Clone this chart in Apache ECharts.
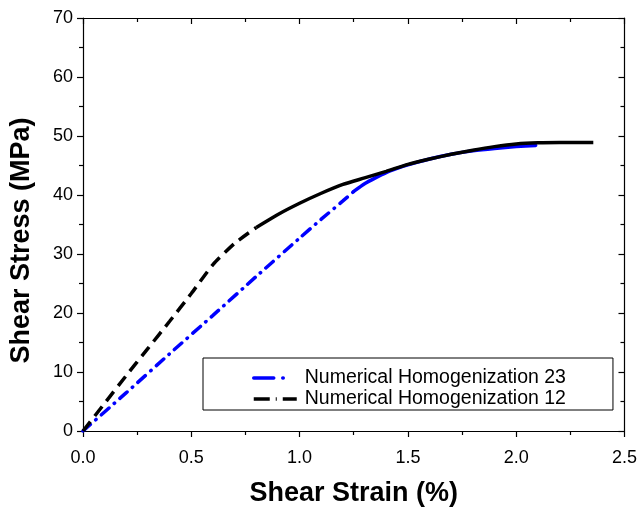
<!DOCTYPE html>
<html>
<head>
<meta charset="utf-8">
<script src="https://cdn.jsdelivr.net/npm/echarts@6/dist/echarts.min.js"></script>
<style>html,body{margin:0;padding:0;background:#fff}#c{width:640px;height:512px}</style>
</head>
<body>
<div id="c"></div>
<script>
// ---- data ----
const xTicks = [0.0, 0.5, 1.0, 1.5, 2.0, 2.5];
const yTicks = [0, 10, 20, 30, 40, 50, 60, 70];
const seriesNames = ["Numerical Homogenization 23", "Numerical Homogenization 12"];

const strain23 = [0, 0.2, 0.4, 0.6, 0.8, 1.0, 1.1, 1.2, 1.25, 1.3, 1.35, 1.4, 1.45, 1.5, 1.6, 1.7, 1.8, 1.9, 2.0, 2.09];
const stress23 = [0, 6.5, 13.1, 19.6, 26.2, 32.7, 35.9, 39.0, 40.6, 41.9, 42.9, 43.8, 44.5, 45.1, 46.1, 46.9, 47.5, 47.9, 48.2, 48.4];

const strain12 = [0, 0.1, 0.2, 0.3, 0.4, 0.5, 0.6, 0.7, 0.8, 0.9, 1.0, 1.1, 1.2, 1.3, 1.4, 1.5, 1.6, 1.7, 1.8, 1.9, 2.0, 2.1, 2.2, 2.356];
const stress12 = [0, 4.7, 9.4, 14.0, 18.6, 23.3, 28.2, 31.8, 34.5, 36.7, 38.6, 40.3, 41.8, 42.9, 44.0, 45.2, 46.1, 46.9, 47.6, 48.2, 48.65, 48.85, 48.9, 48.9];

// ---- build ----
function pairs(xs, ys, lo, hi) {
  const out = [];
  for (let i = 0; i < xs.length; i++) if (xs[i] >= lo && xs[i] <= hi) out.push([xs[i], ys[i]]);
  return out;
}
const FONT = 'Arial, "Liberation Sans", sans-serif';
const blueStyle = { color: '#0000ff', width: 3.5, type: [10, 7, 0.5, 7], cap: 'round' };
const blackStyle = { color: '#000000', width: 3.5, type: [12, 7], cap: 'butt' };

const chart = echarts.init(document.getElementById('c'), null, { renderer: 'canvas' });
const axisLineStyle = { color: '#000', width: 1.2 };
const tickStyle = { color: '#000', width: 1.2 };
chart.setOption({
  animation: false,
  backgroundColor: '#fff',
  grid: { left: 83, top: 18, right: 12, bottom: 80, containLabel: false },
  legend: {
    orient: 'vertical',
    left: 203, top: 358,
    padding: [10, 47, 1, 49],
    itemGap: 1,
    itemWidth: 46, itemHeight: 14,
    borderColor: '#000', borderWidth: 1,
    backgroundColor: '#fff',
    textStyle: { fontFamily: FONT, fontSize: 19.5, color: '#000', lineHeight: 20 },
    data: [
      { name: seriesNames[0], lineStyle: { type: [20, 9, 0.5, 40], cap: 'round', width: 3.5 } },
      { name: seriesNames[1], lineStyle: { type: [16, 6, 1, 6, 14, 20], cap: 'butt', width: 3.5 } }
    ],
    itemStyle: { opacity: 0 }
  },
  xAxis: [{
    type: 'value', min: 0, max: 2.5, interval: 0.5,
    name: 'Shear Strain (%)', nameLocation: 'middle', nameGap: 49,
    nameTextStyle: { fontFamily: FONT, fontSize: 27, fontWeight: 'bold', color: '#000' },
    axisLine: { onZero: false, lineStyle: axisLineStyle },
    axisTick: { show: true, length: 6, inside: false, lineStyle: tickStyle },
    minorTick: { show: true, splitNumber: 2, length: 4, lineStyle: tickStyle },
    splitLine: { show: false },
    axisLabel: { fontFamily: FONT, fontSize: 18, color: '#000', margin: 18,
      formatter: v => xTicks.includes(v) ? v.toFixed(1) : '' }
  }, {
    type: 'value', position: 'top', min: 0, max: 2.5, interval: 0.5,
    axisLine: { onZero: false, lineStyle: axisLineStyle },
    axisTick: { show: true, length: 6, inside: true, lineStyle: tickStyle },
    minorTick: { show: true, splitNumber: 2, length: 4, lineStyle: tickStyle },
    splitLine: { show: false }, axisLabel: { show: false }
  }],
  yAxis: [{
    type: 'value', min: 0, max: 70, interval: 10,
    name: 'Shear Stress (MPa)', nameLocation: 'middle', nameGap: 48,
    nameTextStyle: { fontFamily: FONT, fontSize: 27, fontWeight: 'bold', color: '#000', padding: [0, 32, 0, 0] },
    axisLine: { show: true, onZero: false, lineStyle: axisLineStyle },
    axisTick: { show: true, length: 6, inside: false, lineStyle: tickStyle },
    minorTick: { show: true, splitNumber: 2, length: 4, lineStyle: tickStyle },
    splitLine: { show: false },
    axisLabel: { fontFamily: FONT, fontSize: 18, color: '#000', margin: 10,
      formatter: v => yTicks.includes(v) ? String(v) : '' }
  }, {
    type: 'value', position: 'right', min: 0, max: 70, interval: 10,
    axisLine: { show: true, onZero: false, lineStyle: axisLineStyle },
    axisTick: { show: true, length: 6, inside: true, lineStyle: tickStyle },
    minorTick: { show: true, splitNumber: 2, length: 4, lineStyle: tickStyle },
    splitLine: { show: false }, axisLabel: { show: false }
  }],
  series: [
    { name: seriesNames[0], type: 'line', showSymbol: false, symbol: 'none', smooth: 0.2,
      data: pairs(strain23, stress23, 0, 1.25), lineStyle: blueStyle, itemStyle: { color: '#0000ff' }, z: 2 },
    { name: seriesNames[0], type: 'line', showSymbol: false, symbol: 'none', smooth: 0.2,
      data: pairs(strain23, stress23, 1.25, 9), lineStyle: Object.assign({}, blueStyle, { type: 'solid' }), itemStyle: { color: '#0000ff' }, z: 2 },
    { name: seriesNames[1], type: 'line', showSymbol: false, symbol: 'none', smooth: 0.2,
      data: pairs(strain12, stress12, 0, 0.8), lineStyle: blackStyle, itemStyle: { color: '#000' }, z: 3 },
    { name: seriesNames[1], type: 'line', showSymbol: false, symbol: 'none', smooth: 0.2,
      data: pairs(strain12, stress12, 0.8, 9), lineStyle: Object.assign({}, blackStyle, { type: 'solid' }), itemStyle: { color: '#000' }, z: 3 }
  ]
});
</script>
</body>
</html>
